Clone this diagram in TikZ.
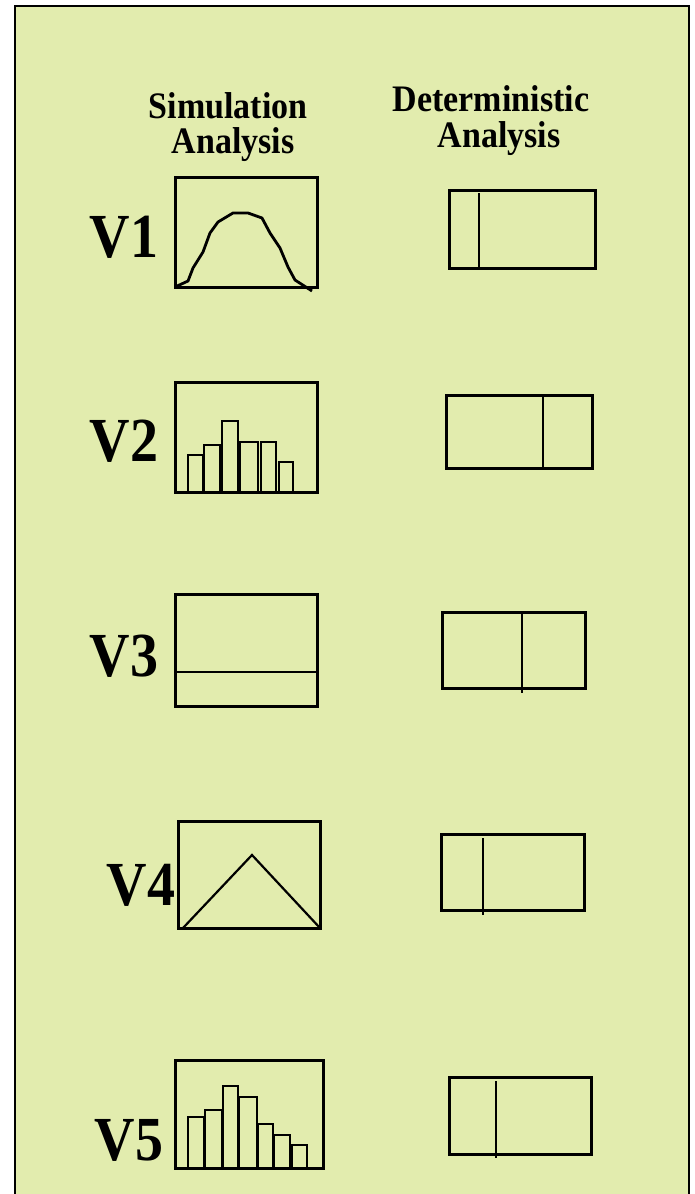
\documentclass[tikz,border=0pt]{standalone}
\usepackage{fontspec}
\usepackage{graphicx}
\setmainfont{Liberation Serif}
\definecolor{bgfill}{RGB}{226,236,174}
\newcommand{\tallhdr}[1]{\scalebox{1}[1.1]{#1}}
\newcommand{\tallv}[1]{\scalebox{1}[1.12]{#1}}
\begin{document}
\begin{tikzpicture}[x=0.5pt,y=-0.5pt,
  hdr/.style={font=\fontsize{17}{18}\selectfont\bfseries, anchor=base, inner sep=0pt},
  vlab/.style={font=\fontsize{28}{30}\selectfont\bfseries, anchor=base, inner sep=0pt},
  box/.style={draw=black, line width=1.5pt},
  inner/.style={draw=black, line width=1.4pt},
  thin/.style={draw=black, line width=1.1pt},
  bar/.style={draw=black, line width=1.2pt}]
\useasboundingbox (0,0) rectangle (695,1194);
% panel
\fill[bgfill] (15,6) rectangle (689,1194);
\draw[black, line width=1.2pt] (15,1194) -- (15,6) -- (689,6) -- (689,1194);
% headers
\node[hdr] (sim1) at (228,118) {\tallhdr{Simulation}};
\node[hdr] (sim2) at (233,153) {\tallhdr{Analysis}};
\node[hdr] (det1) at (491,111) {\tallhdr{Deterministic}};
\node[hdr] (det2) at (499,147) {\tallhdr{Analysis}};
% row labels
\node[vlab] (v1) at (124,257) {\tallv{V1}};
\node[vlab] (v2) at (124,461) {\tallv{V2}};
\node[vlab] (v3) at (124,676) {\tallv{V3}};
\node[vlab] (v4) at (141,905) {\tallv{V4}};
\node[vlab] (v5) at (129,1160) {\tallv{V5}};
% ---- simulation column ----
% V1: bell curve
\draw[box] (175,177) rectangle (317,287);
\draw[inner, line join=round] (175,287) -- (188,281) -- (193,268) -- (203,252) -- (210,233) -- (218,222) -- (233,213) -- (248,213) -- (262,218) -- (270,233) -- (280,248) -- (288,267) -- (295,280) -- (312,291);
% V2: histogram
\draw[box] (175,382) rectangle (317,492);
\foreach \a/\b/\t in {188/203/455, 204/220/445, 222/238/421, 240/258/442, 261/276/442, 279/293/462}
  \draw[bar] (\a,493) rectangle (\b,\t);
% V3: uniform
\draw[box] (175,594) rectangle (317,706);
\draw[thin] (175,672) -- (317,672);
% V4: triangle
\draw[box] (178,821) rectangle (320,928);
\draw[thin, line join=miter] (183,928) -- (252,855) -- (320,928);
% V5: skewed histogram
\draw[box] (175,1060) rectangle (323,1168);
\foreach \a/\b/\t in {188/204/1117, 205/222/1110, 223/238/1086, 239/257/1097, 258/273/1124, 274/290/1135, 292/307/1145}
  \draw[bar] (\a,1168) rectangle (\b,\t);
% ---- deterministic column ----
\draw[box] (449,190) rectangle (595,268);
\draw[inner] (479,193) -- (479,268);
\draw[box] (446,395) rectangle (592,468);
\draw[inner] (543,395) -- (543,468);
\draw[box] (442,612) rectangle (585,688);
\draw[inner] (522,612) -- (522,693);
\draw[box] (441,834) rectangle (584,910);
\draw[inner] (483,838) -- (483,915);
\draw[box] (449,1077) rectangle (591,1154);
\draw[inner] (496,1081) -- (496,1158);
\end{tikzpicture}
\end{document}
